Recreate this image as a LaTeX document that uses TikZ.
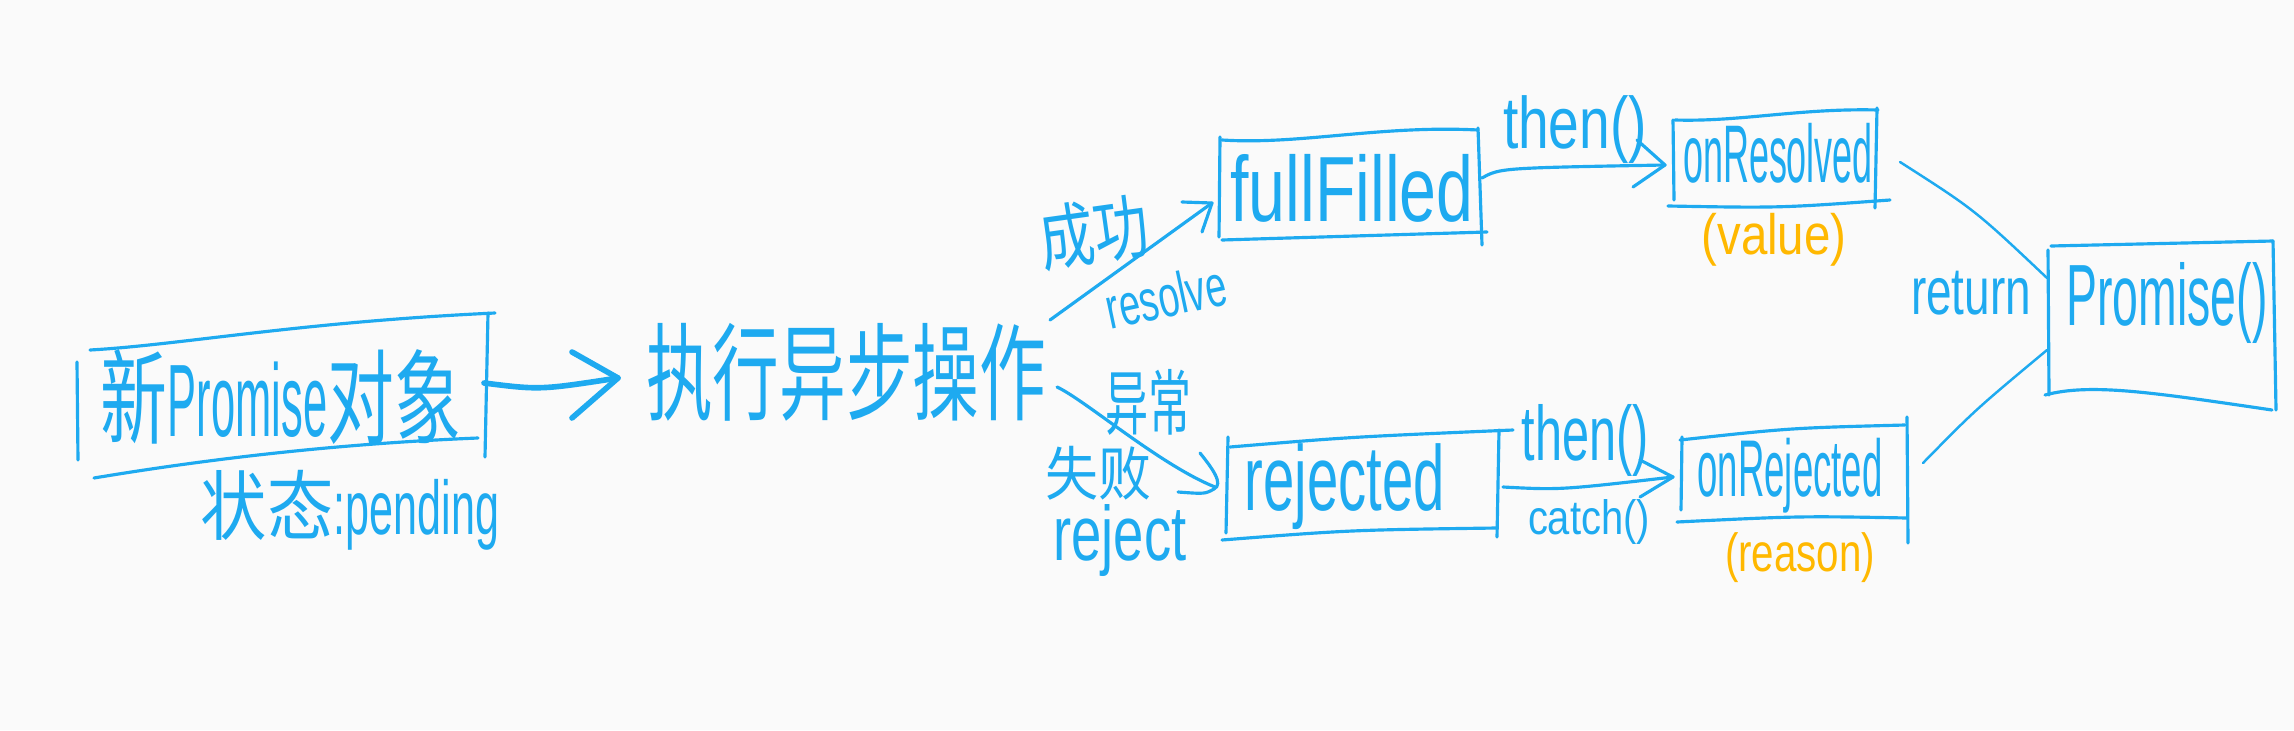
\documentclass[tikz,border=0pt]{standalone}
\usepackage{fontspec}
\usepackage{graphicx}
\newfontfamily\cjk{Noto Sans CJK SC}
\newfontfamily\hand[FakeStretch=0.65]{Liberation Sans}
\definecolor{ink}{RGB}{30,170,240}
\definecolor{gold}{RGB}{255,184,0}
\definecolor{paper}{RGB}{250,250,250}
\newlength\pxu \setlength\pxu{0.02cm}
\newcommand\fitto[3]{\resizebox*{#1\pxu}{#2\pxu}{#3}}
\begin{document}
\begin{tikzpicture}[x=0.02cm,y=-0.02cm,line cap=round,line join=round,
  edge/.style={draw=ink,line width=1.8pt},
  conn/.style={draw=ink,line width=1.8pt},
  lbl/.style={inner sep=0pt,text=ink},
  glbl/.style={inner sep=0pt,text=gold}]
\fill[paper] (0,0) rectangle (2294,730);
\useasboundingbox (0,0) rectangle (2294,730);

% ---- labels ----
\node[lbl] (t1) at (281,397) {\fitto{360}{95}{\cjk 新\hand Promise\cjk 对象}};
\node[lbl] (pend) at (350,510) {\fitto{298}{80}{\cjk 状态\hand :pending}};
\node[lbl] (exec) at (846,372) {\fitto{400}{98}{\cjk 执行异步操作}};
\node[lbl,rotate=8] (succ) at (1094,232) {\fitto{110}{66}{\cjk 成功}};
\node[lbl,rotate=12] (res) at (1166,296) {\fitto{122}{43}{\hand resolve}};
\node[lbl] (abn) at (1148,402) {\fitto{86}{66}{\cjk 异常}};
\node[lbl] (fail) at (1098,473) {\fitto{106}{54}{\cjk 失败}};
\node[lbl] (rej) at (1120,541) {\fitto{133}{72}{\hand reject}};
\node[lbl] (ffl) at (1352,188) {\fitto{243}{68}{\hand fullFilled}};
\node[lbl] (then1) at (1575,130) {\fitto{144}{68}{\hand then()}};
\node[lbl] (onres) at (1778,153) {\fitto{190}{60}{\hand onResolved}};
\node[glbl] (val) at (1774,240) {\fitto{145}{53}{\hand (value)}};
\node[lbl] (rjd) at (1345,487) {\fitto{200}{86}{\hand rejected}};
\node[lbl] (then2) at (1585,440) {\fitto{127}{72}{\hand then()}};
\node[lbl] (catch) at (1589,522) {\fitto{122}{45}{\hand catch()}};
\node[lbl] (onrej) at (1790,476) {\fitto{185}{75}{\hand onRejected}};
\node[glbl] (rsn) at (1800,558) {\fitto{150}{50}{\hand (reason)}};
\node[lbl] (ret) at (1971,293) {\fitto{120}{44}{\hand return}};
\node[lbl] (prm) at (2167,303) {\fitto{201}{81}{\hand Promise()}};

% ---- hand-drawn boxes ----
% new Promise
\draw[edge] (90,350) .. controls (180,345) and (300,322) .. (495,313);
\draw[edge] (77,362) -- (78,460);
\draw[edge] (488,313) -- (485,457);
\draw[edge] (94,478) .. controls (250,452) and (380,442) .. (478,438);
% fullFilled
\draw[edge] (1222,140) .. controls (1300,145) and (1380,125) .. (1478,130);
\draw[edge] (1220,137) -- (1219,237);
\draw[edge] (1478,128) -- (1482,245);
\draw[edge] (1222,240) -- (1487,232);
% onResolved
\draw[edge] (1675,120) .. controls (1740,122) and (1800,108) .. (1878,110);
\draw[edge] (1673,120) -- (1674,200);
\draw[edge] (1877,108) -- (1875,208);
\draw[edge] (1668,206) .. controls (1780,208) .. (1890,200);
% Promise()
\draw[edge] (2051,246) -- (2273,241);
\draw[edge] (2048,250) -- (2049,395);
\draw[edge] (2273,241) -- (2276,410);
\draw[edge] (2045,395) .. controls (2090,383) and (2150,392) .. (2272,410);
% rejected
\draw[edge] (1230,447) .. controls (1350,437) .. (1513,430);
\draw[edge] (1228,437) -- (1226,533);
\draw[edge] (1499,430) -- (1497,537);
\draw[edge] (1222,540) .. controls (1350,530) .. (1497,528);
% onRejected
\draw[edge] (1680,440) .. controls (1790,428) .. (1905,425);
\draw[edge] (1682,437) -- (1681,510);
\draw[edge] (1907,417) -- (1908,543);
\draw[edge] (1677,522) .. controls (1800,516) .. (1907,518);

% ---- connector end points ----
\coordinate (b1e) at (484,383);
\coordinate (a1tip) at (618,378);
\coordinate (exne) at (1050,320);
\coordinate (ffw) at (1212,203);
\coordinate (exse) at (1057,387);
\coordinate (rjw) at (1215,487);
\coordinate (ffe) at (1482,178);
\coordinate (orw) at (1665,165);
\coordinate (rje) at (1503,487);
\coordinate (ojw) at (1673,477);
\coordinate (ore) at (1900,162);
\coordinate (oje) at (1923,463);
\coordinate (pw1) at (2047,278);
\coordinate (pw2) at (2047,350);

% ---- connectors ----
\draw[conn,line width=3.2pt] (b1e) .. controls (540,390) .. (a1tip);
\draw[conn,line width=3.2pt] (a1tip) ++(-46,-26) -- (a1tip) -- ++(-46,40);

\draw[conn] (exne) -- (ffw);
\draw[conn] (ffw) ++(-30,-1) -- (ffw) -- ++(-10,29);

\draw[conn] (exse) .. controls (1085,400) and (1160,465) .. (rjw);
\draw[conn] (1200,453) .. controls (1212,468) and (1224,484) .. (1214,489) .. controls (1205,494) .. (1178,492);

\draw[conn] (ffe) .. controls (1500,168) .. (orw);
\draw[conn] (orw) ++(-28,-25) -- (orw) -- ++(-32,22);

\draw[conn] (rje) .. controls (1560,490) .. (ojw);
\draw[conn] (ojw) ++(-33,-17) -- (ojw) -- ++(-33,20);

\draw[conn,line width=1.4pt] (ore) .. controls (1975,210) .. (pw1);
\draw[conn,line width=1.4pt] (oje) .. controls (1975,410) .. (pw2);
\end{tikzpicture}
\end{document}
